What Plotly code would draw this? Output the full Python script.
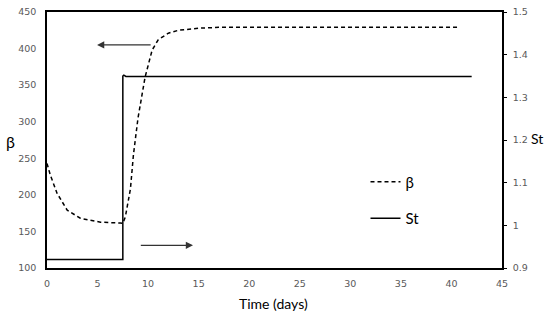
import plotly.graph_objects as go

# Data
beta_t = [0, 0.33, 1, 2, 3.3, 5.3, 7.25, 7.5, 7.75, 8.0, 8.25, 8.55, 9.0, 9.7, 10.4, 11, 12, 13, 15.2, 17, 20, 30, 40.8]
beta_v = [243, 227, 202, 179, 168, 162.6, 161.5, 161, 170, 190, 208, 255, 305, 361, 398, 412, 421, 425, 428, 429, 429, 429, 429]

st_t = [0, 7.5, 7.5, 7.6, 7.8, 42]
st_v = [0.92, 0.92, 1.35, 1.352, 1.349, 1.349]

x_ticks = [0, 5, 10, 15, 20, 25, 30, 35, 40, 45]
y1_ticks = [100, 150, 200, 250, 300, 350, 400, 450]
y2_ticks = [0.9, 1, 1.1, 1.2, 1.3, 1.4, 1.5]
y2_labels = ["0.9", "1", "1.1", "1.2", "1.3", "1.4", "1.5"]

tickfont = dict(family="DejaVu Sans", size=9.5, color="#595959")
titlefont = dict(family="Lato", size=14, color="#000000")

fig = go.Figure()
fig.add_trace(go.Scatter(x=beta_t, y=beta_v, mode="lines", name="β",
                         line=dict(color="black", width=1.5, dash="4px,3px"),
                         legendgroup="a"))
fig.add_trace(go.Scatter(x=st_t, y=st_v, mode="lines", name="St", yaxis="y2",
                         line=dict(color="black", width=1.5),
                         legendgroup="b"))

fig.update_layout(
    width=550, height=317,
    margin=dict(l=47, r=48, t=12, b=49, autoexpand=False),
    plot_bgcolor="white", paper_bgcolor="white",
    xaxis=dict(range=[0, 45], tickvals=x_ticks, showgrid=False, zeroline=False,
               showline=True, linecolor="black", linewidth=1.5, mirror=True,
               ticks="", tickfont=tickfont, automargin=False, ticklabelstandoff=6),
    yaxis=dict(range=[100, 450], tickvals=y1_ticks, showgrid=False, zeroline=False,
               showline=True, linecolor="black", linewidth=1.5, ticks="",
               tickfont=tickfont, automargin=False, ticklabelstandoff=7),
    yaxis2=dict(range=[0.9, 1.5], tickvals=y2_ticks, ticktext=y2_labels, overlaying="y",
                side="right", showgrid=False, zeroline=False,
                showline=True, linecolor="black", linewidth=1.5,
                ticks="outside", ticklen=3, tickcolor="black", tickfont=tickfont,
                automargin=False, ticklabelstandoff=4),
    legend=dict(x=0.70, y=0.40, xanchor="left", yanchor="top",
                font=dict(family="Lato", size=15, color="black"),
                bgcolor="rgba(0,0,0,0)", tracegroupgap=14),
    showlegend=True,
)

fig.add_annotation(x=10, y=141, xref="paper", yref="paper", xanchor="center", yanchor="middle",
                   text="β", showarrow=False, font=dict(family="Lato", size=16, color="black"))
fig.add_annotation(x=537, y=138, xref="paper", yref="paper", xanchor="center", yanchor="middle",
                   text="St", showarrow=False, font=titlefont)
fig.add_annotation(x=273, y=303, xref="paper", yref="paper", xanchor="center", yanchor="middle",
                   text="Time (days)", showarrow=False, font=titlefont)

fig.add_annotation(x=4.95, y=405, ax=10.4, ay=405, xref="x", yref="y",
                   axref="x", ayref="y", text="", showarrow=True,
                   arrowhead=2, arrowsize=1.2, arrowwidth=1.2, arrowcolor="#333333")
fig.add_annotation(x=14.44, y=131, ax=9.13, ay=131, xref="x", yref="y",
                   axref="x", ayref="y", text="", showarrow=True,
                   arrowhead=2, arrowsize=1.2, arrowwidth=1.2, arrowcolor="#333333")

# convert pixel positions of side titles to paper coords
pw, ph = 550 - 47 - 48, 317 - 12 - 49
for ann in fig.layout.annotations[:3]:
    ann.x = (ann.x - 47) / pw
    ann.y = (317 - 49 - ann.y) / ph

fig.write_html("out.html")
